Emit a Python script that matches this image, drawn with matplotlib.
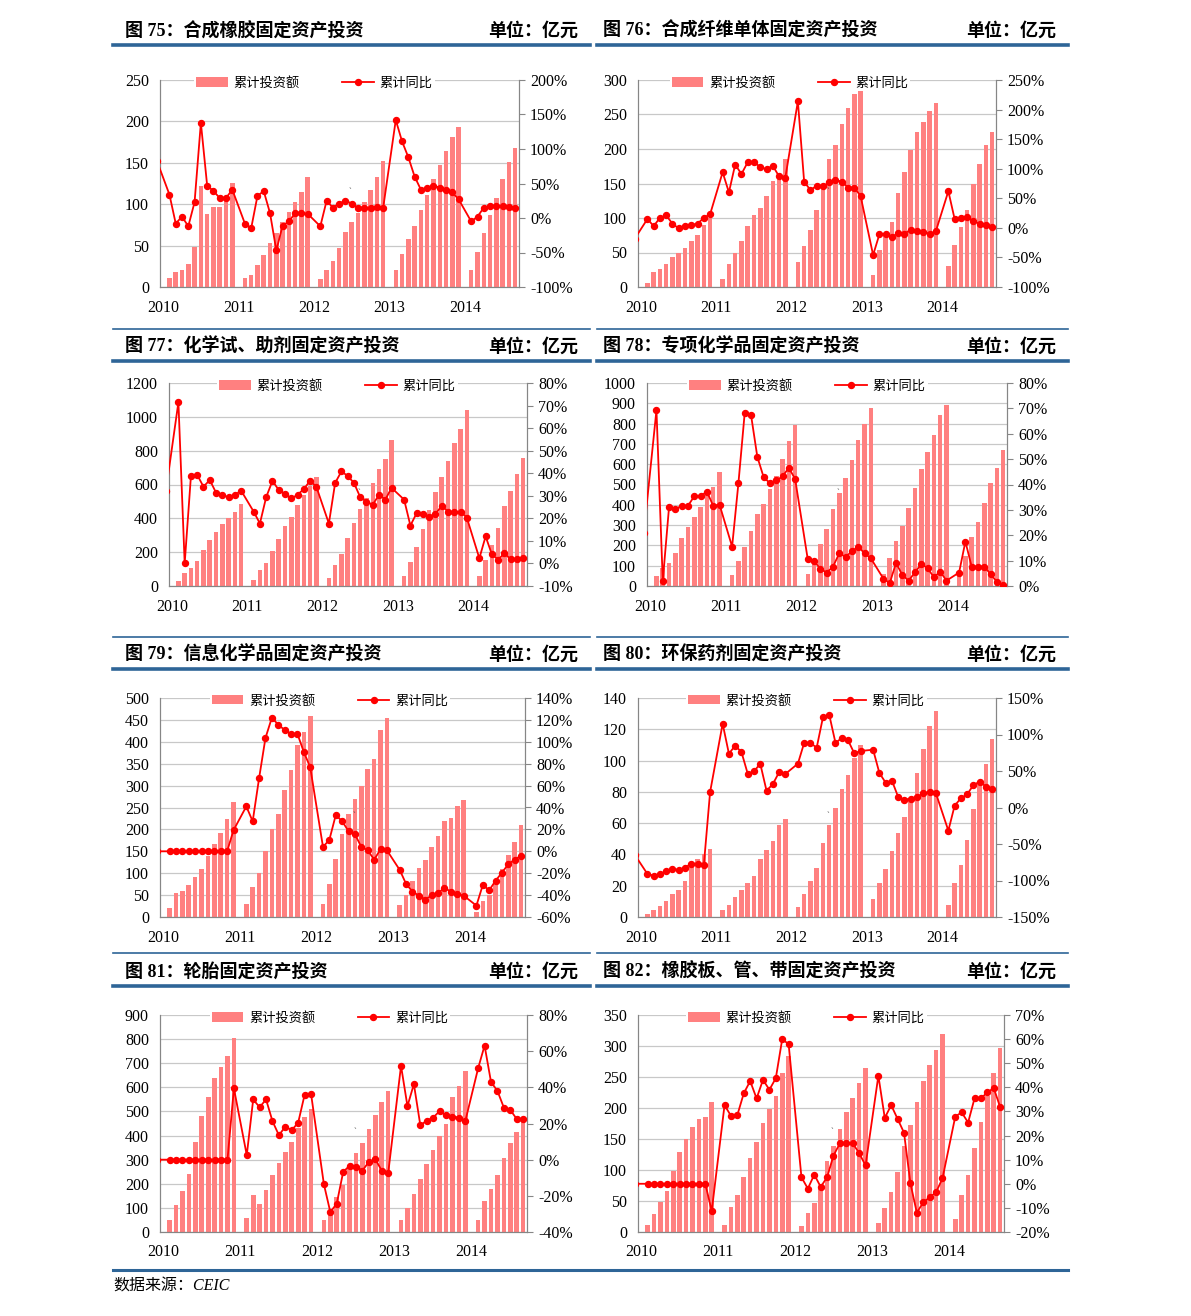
import numpy as np
import matplotlib
matplotlib.use("Agg")
import matplotlib.pyplot as plt
from matplotlib.lines import Line2D

plt.rcParams["font.family"] = ["Liberation Serif", "Noto Sans CJK SC", "DejaVu Sans"]

nan = np.nan

# Meses: dez/2009, depois fev-dez de 2010-2013 e fev-set de 2014 (janeiro não publicado)
anos = ["2010", "2011", "2012", "2013", "2014"]

# 图75 合成橡胶
p75_valor = [90,
             11, 18, 21, 28, 48, 122, 88, 97, 97, 110, 126,
             11, 15, 27, 39, 53, 65, 78, 91, 103, 115, 133,
             10, 20, 32, 47, 66, 78, 89, 103, 117, 133, 152,
             21, 40, 58, 74, 93, 111, 130, 147, 164, 181, 193,
             20, 42, 65, 87, 107, 130, 151, 168]
p75_yoy = [83,
           34, -8, 2, -12, 23, 138, 47, 39, 29, 29, 41,
           -8, -15, 32, 39, 7, -47, -11, -5, 7, 7, 6,
           -12, 25, 15, 21, 25, 21, 15, 15, 15, 16, 15,
           142, 111, 88, 60, 41, 43, 47, 44, 41, 37, 27,
           -5, 2, 15, 17, 17, 17, 16, 15]

# 图76 合成纤维单体
p76_valor = [nan,
             6, 22, 26, 34, 43, 50, 57, 67, 76, 90, 100,
             11, 34, 50, 66, 88, 104, 115, 132, 153, 163, 185,
             36, 60, 83, 111, 147, 185, 206, 236, 259, 279, 285,
             18, 53, 76, 94, 136, 166, 199, 224, 239, 255, 266,
             31, 61, 87, 111, 150, 178, 206, 225]
p76_yoy = [-18,
           15, 3, 17, 21, 7, -1, 3, 5, 7, 17, 23,
           94, 60, 107, 91, 111, 111, 103, 99, 105, 87, 85,
           214, 78, 64, 71, 70, 77, 81, 78, 68, 68, 54,
           -46, -11, -10, -16, -8, -10, -3, -6, -7, -10, -6,
           62, 15, 17, 19, 11, 7, 5, 1]

# 图77 化学试、助剂
p77_valor = [nan,
             30, 79, 108, 150, 213, 270, 318, 367, 403, 436, 487,
             37, 93, 136, 207, 276, 353, 408, 478, 537, 594, 647,
             45, 122, 191, 282, 373, 458, 523, 606, 691, 752, 866,
             59, 144, 233, 337, 452, 557, 647, 738, 843, 928, 1040,
             57, 156, 241, 345, 472, 562, 661, 754]
p77_yoy = [32,
           71.5, 0, 38.8, 39.3, 34, 37, 31.4, 30.3, 29.4, 30.3, 32.3,
           23, 17.7, 29.4, 36.6, 32.6, 30.8, 28.8, 30.4, 33, 36.6, 34,
           17.7, 35.7, 40.8, 38.8, 35.7, 29.4, 27.3, 26.1, 30.4, 28.3, 33.5,
           28.3, 16.8, 22.3, 22, 20.8, 22, 25.5, 23, 22.6, 23, 20.3,
           2.3, 12, 4, 1.7, 4.5, 1.8, 1.8, 2.3]

# 图78 专项化学品
p78_valor = [nan,
             48, 89, 112, 164, 237, 289, 340, 390, 454, 488, 564,
             54, 123, 194, 271, 354, 406, 477, 544, 627, 712, 791,
             59, 128, 207, 283, 377, 459, 530, 622, 719, 799, 878,
             58, 137, 224, 296, 383, 482, 574, 660, 743, 842, 893,
             60, 150, 242, 317, 411, 505, 579, 668]
p78_yoy = [21,
           69.3, 2, 31.2, 30.3, 31.6, 31.6, 35.4, 35.4, 37.2, 31.6, 32.1,
           15.5, 40.5, 68.3, 67.4, 50.9, 42.9, 40.5, 41.6, 43.2, 46.6, 42.1,
           10.5, 9.9, 6.7, 5.3, 7.6, 12.9, 11.4, 13.7, 15.5, 12.9, 10.9,
           2.9, 1.1, 9.1, 4.3, 2.1, 5.4, 8.6, 7.1, 3.4, 5.7, 2.1,
           5.3, 17.5, 7.6, 7.6, 7.6, 4.7, 1.6, 0.4]

# 图79 信息化学品
p79_valor = [220,
             21, 54, 59, 74, 92, 110, 139, 166, 192, 224, 262,
             30, 69, 101, 151, 200, 236, 290, 336, 393, 422, 459,
             30, 75, 133, 189, 236, 270, 299, 337, 361, 426, 454,
             27, 51, 83, 113, 129, 160, 186, 220, 226, 253, 267,
             12, 37, 51, 80, 110, 142, 171, 209]
p79_yoy = [0,
           0, 0, 0, 0, 0, 0, 0, 0, 0, 0, 19.2,
           41, 27.4, 66.7, 103.5, 122, 115.6, 110.8, 107.2, 107.2, 90.7, 76.7,
           3.9, 10.6, 33.2, 27.4, 18.3, 15.5, 3.9, 0.9, -7.6, 1.8, 0.9,
           -17, -29.8, -36.8, -40.5, -44.1, -40.2, -38, -33.5, -36.8, -39.3, -40.5,
           -49.6, -30.7, -35.6, -26.8, -19.5, -11.6, -7.6, -3.9]

# 图80 环保药剂
p80_valor = [36,
             1.9, 4.5, 7, 10, 15, 17.5, 23, 32, 37, 40, 43.5,
             4.5, 7.7, 12.6, 17.5, 21.5, 26.4, 37, 43, 48.4, 59, 62.4,
             6.6, 14.9, 22.8, 31.3, 47.5, 59, 69.7, 82, 91, 101.6, 110.2,
             11.7, 21.5, 30.5, 42.2, 53.5, 64.1, 75, 92, 107.6, 122, 131.5,
             7.7, 21.5, 33.5, 49, 69, 85, 98, 114]
p80_yoy = [-65,
           -91, -93.4, -91, -87.4, -83.8, -85.6, -82.4, -77, -77, -78.8, 21.2,
           114.8, 73.7, 84.7, 76, 46.3, 49.5, 60, 23, 32, 48.2, 45.9,
           60, 88.4, 88.4, 82, 123.5, 127.2, 88.4, 95.2, 92, 74.2, 77.4,
           79.2, 47.3, 34, 36.8, 14.4, 10.7, 12.1, 14.4, 19.9, 21.2, 19.9,
           -31.7, 2.5, 12.6, 18, 30.8, 35.4, 28.5, 24.9]

# 图81 轮胎
p81_valor = [652,
             48, 112, 170, 242, 374, 480, 558, 637, 685, 731, 806,
             58, 154, 116, 176, 237, 285, 332, 375, 433, 475, 511,
             48, 93, 144, 194, 264, 327, 368, 428, 485, 539, 584,
             48, 101, 158, 220, 280, 342, 400, 447, 558, 606, 669,
             48, 127, 180, 237, 306, 368, 415, 479]
p81_yoy = [0,
           0, 0, 0, 0, 0, 0, 0, 0, 0, 0, 39.4,
           2.5, 33.3, 29, 33.3, 21.3, 13.5, 18.3, 16.3, 20.5, 35.9, 36.4,
           -13.6, -29, -24.3, -6.8, -3.3, -4, -6, -1.2, 0.2, -6, -7.5,
           51.9, 29.6, 41.8, 19.1, 21.5, 23.3, 26.8, 24.6, 23.8, 23.3, 21.3,
           50.6, 63.1, 43, 38, 28.8, 27.5, 22.5, 22.5]

# 图82 橡胶板、管、带
p82_valor = [nan,
             10.8, 29, 48, 66, 98, 129, 150, 170, 182.5, 186, 209,
             10.8, 40, 60, 89, 119, 145, 176, 198, 219, 256, 284,
             9, 30, 46, 70, 114, 139, 166, 194, 216, 240, 264,
             15, 38, 64, 97, 139, 172, 209, 244, 270, 294, 319,
             21, 60, 92, 136, 178, 219, 256, 296]
p82_yoy = [0,
           0, 0, 0, 0, 0, 0, 0, 0, 0, 0, -11.3,
           32.6, 28.2, 28.5, 37.5, 42.6, 35.4, 43.1, 39, 43.8, 60, 57.9,
           2.7, -2, 3.8, -1.3, 2.7, 11.7, 16.8, 16.8, 16.8, 12.7, 7.6,
           44.8, 27.3, 32.6, 26.9, 21.2, 0.2, -12, -7.7, -5.6, -3.5, 2.2,
           27.9, 29.6, 25.4, 35.4, 35.4, 37.9, 39.7, 31.8]

titulos = ["图 75：合成橡胶固定资产投资", "图 76：合成纤维单体固定资产投资",
           "图 77：化学试、助剂固定资产投资", "图 78：专项化学品固定资产投资",
           "图 79：信息化学品固定资产投资", "图 80：环保药剂固定资产投资",
           "图 81：轮胎固定资产投资", "图 82：橡胶板、管、带固定资产投资"]

# posição dos meses (jan/2010 = 0)
xm = [-1] + [12 * a + m for a in range(4) for m in range(1, 12)] + [48 + m for m in range(1, 9)]

W, H = 1191, 1316
fig = plt.figure(figsize=(W / 100, H / 100), dpi=100)

AZUL = "#2E6597"
BARRA = "#FF8080"
LINHA = "#FF0000"
CINZA = "#868686"
CJK = ["Noto Sans CJK SC", "DejaVu Sans"]


def eixo_px(x0, y0, x1, y1):
    return fig.add_axes([x0 / W, 1 - y1 / H, (x1 - x0) / W, (y1 - y0) / H])


def linha_px(x0, x1, y, lw):
    fig.add_artist(Line2D([x0 / W, x1 / W], [1 - y / H, 1 - y / H],
                          color=AZUL, lw=lw, transform=fig.transFigure))


# (retângulo em px, valor, yoy, max esq, passo esq, min dir, max dir, passo dir, x da legenda)
paineis = [
    ((160, 80, 519, 287), p75_valor, p75_yoy, 250, 50, -100, 200, 50, 0.43),
    ((638, 80, 996, 287), p76_valor, p76_yoy, 300, 50, -100, 250, 50, 0.425),
    ((169, 383, 527, 586), p77_valor, p77_yoy, 1200, 200, -10, 80, 10, 0.47),
    ((647, 383, 1007, 586), p78_valor, p78_yoy, 1000, 100, 0, 80, 10, 0.445),
    ((160, 698, 525, 917), p79_valor, p79_yoy, 500, 50, -60, 140, 20, 0.466),
    ((638, 698, 996, 917), p80_valor, p80_yoy, 140, 20, -150, 150, 50, 0.47),
    ((160, 1015, 527, 1232), p81_valor, p81_yoy, 900, 100, -40, 80, 20, 0.463),
    ((638, 1015, 1004, 1232), p82_valor, p82_yoy, 350, 50, -20, 70, 10, 0.46),
]

for i, (ret, valor, yoy, lmax, lpasso, rmin, rmax, rpasso, legx) in enumerate(paineis):
    ax = eixo_px(*ret)
    barras = ax.bar(xm, valor, width=0.72, color=BARRA, zorder=2, label="累计投资额")
    ax.set_xlim(-0.5, 56.6)
    ax.set_ylim(0, lmax)
    ax.set_yticks(np.arange(0, lmax + 1e-9, lpasso))
    ax.yaxis.grid(True, color="#C8C8C8", lw=0.9)
    ax.set_axisbelow(True)
    ax.set_xticks([0, 12, 24, 36, 48])
    ax.set_xticklabels(anos)
    ax.tick_params(axis="x", length=0, pad=9, labelsize=11.5)
    ax.tick_params(axis="y", length=0, pad=8, labelsize=11.5)
    for lado in ["left", "bottom", "right"]:
        ax.spines[lado].set_color(CINZA)
    ax.spines["top"].set_visible(False)

    ax2 = ax.twinx()
    linha, = ax2.plot(xm, yoy, color=LINHA, lw=1.3, marker="o", ms=4.3, zorder=3, label="累计同比")
    ax2.set_ylim(rmin, rmax)
    ticks_dir = np.arange(rmin, rmax + 1e-9, rpasso)
    ax2.set_yticks(ticks_dir)
    ax2.set_yticklabels([f"{t:.0f}%" for t in ticks_dir])
    ax2.tick_params(axis="y", length=4, width=0.8, color=CINZA, pad=4, labelsize=11.5)
    for lado in ["left", "bottom", "right"]:
        ax2.spines[lado].set_color(CINZA)
    ax2.spines["top"].set_visible(False)

    altura = ret[3] - ret[1]
    leg = ax2.legend([barras, linha], ["累计投资额", "累计同比"], loc="center",
                     bbox_to_anchor=(legx, 1 - 3 / altura), ncol=2, frameon=True,
                     facecolor="white", edgecolor="none", framealpha=1,
                     prop={"family": CJK, "size": 9.5}, handlelength=2.4,
                     handletextpad=0.45, columnspacing=3.2, borderpad=0.15,
                     fancybox=False)
    leg.set_zorder(5)
    ax2.text(0.53, 0.46, "`", transform=ax2.transAxes, fontsize=6, color="#444444",
             ha="center", va="center")

# títulos e linhas
linhas_titulo = [29, 345, 653, 970]
for r, yt in enumerate(linhas_titulo):
    for c, (xe, xd) in enumerate([(125, 578), (603, 1056)]):
        fig.text(xe / W, 1 - (yt + 2) / H, titulos[2 * r + c], fontsize=13, fontweight="bold",
                 ha="left", va="center", family=["Liberation Serif", "Noto Sans CJK SC"])
        fig.text(xd / W, 1 - (yt + 1) / H, "单位：亿元", fontsize=13, fontweight="bold",
                 ha="right", va="center", family=CJK)
    linha_px(113, 590, yt + 16, 2.6)
    linha_px(597, 1068, yt + 16, 2.6)

for y in [329, 637, 953]:
    linha_px(113, 590, y, 1.2)
    linha_px(597, 1068, y, 1.2)
linha_px(113, 1068, 1270, 2.2)

fig.text(113 / W, 1 - 1287 / H, "数据来源：CEIC", fontsize=11.5, style="italic",
         ha="left", va="center", family=["Liberation Serif", "Noto Sans CJK SC"])

fig.savefig("out.png", dpi=100)
